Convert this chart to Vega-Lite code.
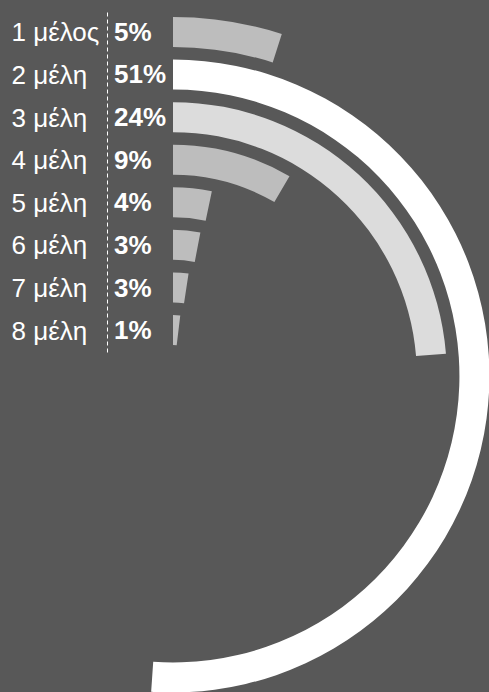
{
  "$schema": "https://vega.github.io/schema/vega-lite/v6.json",
  "width": 132,
  "height": 632,
  "autosize": {"type": "none"},
  "padding": {"left": 107, "top": 60, "right": 250, "bottom": 0},
  "background": "#585858",
  "config": {"view": {"stroke": null}, "font": "Liberation Sans"},
  "data": {
    "values": [
      {"rank": 1, "label": "1 μέλος", "value": 4.9, "pct": "5%"},
      {"rank": 2, "label": "2 μέλη", "value": 51.1, "pct": "51%"},
      {"rank": 3, "label": "3 μέλη", "value": 23.7, "pct": "24%"},
      {"rank": 4, "label": "4 μέλη", "value": 8.4, "pct": "9%"},
      {"rank": 5, "label": "5 μέλη", "value": 3.3, "pct": "4%"},
      {"rank": 6, "label": "6 μέλη", "value": 3.0, "pct": "3%"},
      {"rank": 7, "label": "7 μέλη", "value": 2.4, "pct": "3%"},
      {"rank": 8, "label": "8 μέλη", "value": 1.9, "pct": "1%"}
    ]
  },
  "layer": [
    {
      "mark": {"type": "arc", "radiusOffset": 15, "radius2Offset": -15},
      "encoding": {
        "theta": {"field": "value", "type": "quantitative", "stack": null, "scale": {"domain": [0, 100], "range": [0, 6.283185307179586]}},
        "theta2": {"datum": 0},
        "radius": {"field": "rank", "type": "quantitative", "scale": {"type": "linear", "domain": [1, 8], "range": [344, 46], "zero": false}},
        "radius2": {"field": "rank"},
        "color": {"field": "rank", "type": "ordinal", "legend": null, "scale": {"domain": [1, 2, 3, 4, 5, 6, 7, 8], "range": ["#bdbdbd", "#ffffff", "#dcdcdc", "#bdbdbd", "#bdbdbd", "#bdbdbd", "#bdbdbd", "#bdbdbd"]}}
      }
    },
    {
      "mark": {"type": "text", "align": "left", "baseline": "middle", "x": 0, "dx": 7, "fontWeight": "bold", "fontSize": 26, "color": "#ffffff", "font": "Liberation Sans"},
      "encoding": {
        "y": {
          "field": "label", "type": "nominal",
          "sort": ["1 μέλος", "2 μέλη", "3 μέλη", "4 μέλη", "5 μέλη", "6 μέλη", "7 μέλη", "8 μέλη"],
          "scale": {"type": "point", "range": [-48, 292], "padding": 0.49},
          "axis": {"title": null, "orient": "left", "ticks": false, "tickSize": 0, "grid": false, "labelAlign": "left", "labelBaseline": "middle", "labelPadding": 96, "labelFontSize": 26, "labelFont": "Liberation Sans", "labelColor": "#ffffff", "domainColor": "#ffffff", "domainDash": [4, 3], "domainWidth": 1, "labelOverlap": false, "labelBound": false}
        },
        "text": {"field": "pct"}
      }
    }
  ]
}
